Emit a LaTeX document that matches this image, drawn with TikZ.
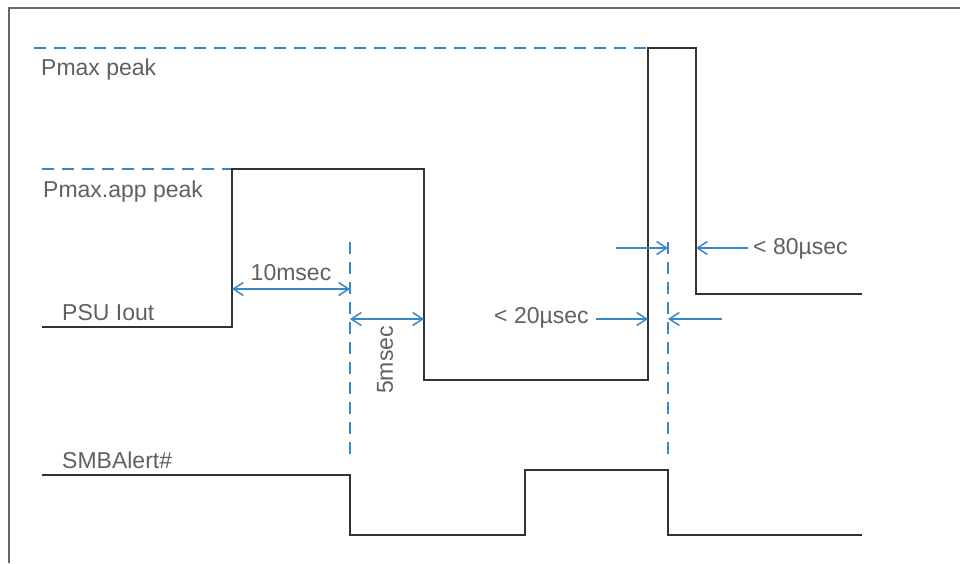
\documentclass[tikz,border=0pt]{standalone}
\usepackage{fontspec}
\setmainfont{Liberation Sans}
\usetikzlibrary{arrows.meta,positioning}
\definecolor{sigblue}{HTML}{3A86C8}
\definecolor{txtgray}{HTML}{606060}
\definecolor{wavegray}{HTML}{333333}

\begin{document}
\begin{tikzpicture}[x=1pt,y=-1pt,>={Straight Barb[length=10pt,width=13pt]},
  wave/.style={draw=wavegray,line width=1.6pt},
  guide/.style={draw=sigblue,line width=1.5pt,dash pattern=on 12pt off 8pt},
  dim/.style={draw=sigblue,line width=1.5pt},
  lbl/.style={text=txtgray,font=\fontsize{23}{27}\selectfont,inner sep=0pt}]
  \useasboundingbox (0,0) rectangle (960,563);
  \draw[draw=black!60,line width=2pt] (9,563) -- (9,8) -- (960,8);

  % time marks
  \coordinate (rise) at (232,0);
  \coordinate (alert) at (350,0);
  \coordinate (fall) at (424,0);
  \coordinate (pkon) at (648,0);
  \coordinate (clear) at (668,0);
  \coordinate (pkoff) at (696,0);

  % level guides
  \draw[guide] (34,48) -- (pkon |- 0,48);
  \draw[guide] (42,169) -- (rise |- 0,169);
  \node[lbl,anchor=base west] (pmax) at (41,75) {Pmax peak};
  \node[lbl,anchor=base west] (pmaxapp) at (43,197) {Pmax.app peak};

  % PSU current
  \draw[wave] (42,327) -- (rise |- 0,327) -- (rise |- 0,169) -- (fall |- 0,169)
    -- (fall |- 0,380) -- (pkon |- 0,380) -- (pkon |- 0,48) -- (pkoff |- 0,48)
    -- (pkoff |- 0,294) -- (862,294);
  \node[lbl,anchor=base west] (iout) at (62,320) {PSU Iout};

  % SMBAlert#
  \draw[wave] (42,475) -- (alert |- 0,475) -- (alert |- 0,535) -- (525,535)
    -- (525,470) -- (clear |- 0,470) -- (clear |- 0,535) -- (862,535);
  \node[lbl,anchor=base west] (smb) at (62,468) {SMBAlert\#};

  % vertical markers
  \draw[guide] (alert |- 0,242) -- (alert |- 0,462);
  \draw[guide] (clear |- 0,242) -- (clear |- 0,462);

  % timing
  \draw[dim,<->] (rise |- 0,289) -- (alert |- 0,289);
  \node[lbl,anchor=base] (ten) at (291,280) {10msec};
  \draw[dim,<->] (alert |- 0,319) -- (fall |- 0,319);
  \node[lbl,rotate=90] (five) at (385,360) {5msec};

  \node[lbl,anchor=base west] (twenty) at (494,323) {< 20µsec};
  \coordinate (tw1) at (596,319);
  \coordinate (tw2) at (722,319);
  \draw[dim,->] (tw1) -- (pkon |- tw1);
  \draw[dim,->] (tw2) -- (clear |- tw2);

  \node[lbl,anchor=base west] (eighty) at (753,254) {< 80µsec};
  \coordinate (ei1) at (616,248);
  \coordinate (ei2) at (748,248);
  \draw[dim,->] (ei1) -- (clear |- ei1);
  \draw[dim,->] (ei2) -- (pkoff |- ei2);
\end{tikzpicture}
\end{document}
